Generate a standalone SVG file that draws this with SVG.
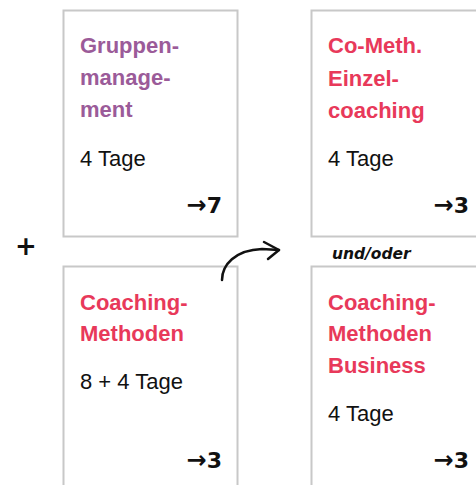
<svg xmlns="http://www.w3.org/2000/svg" width="476" height="485" viewBox="0 0 476 485">
<style>
.box{fill:#fff;stroke:#c8c8c8;stroke-width:2}
.title{font-family:"Liberation Sans",Arial,sans-serif;font-weight:bold;font-size:22px}
.purple{fill:#9b5b99}
.red{fill:#e8395a}
.days{font-family:"Liberation Sans",Arial,sans-serif;font-size:22px;fill:#111}
.ref{font-family:"DejaVu Sans",sans-serif;font-weight:bold;font-size:22px;fill:#111;text-anchor:end}
.arr{font-size:24px}
.hand{font-family:"DejaVu Sans",sans-serif;font-weight:bold;font-style:italic;fill:#111}
</style>
<rect width="476" height="485" fill="#fff"/>
<g id="node-gruppenmanagement">
<rect class="box" x="63.5" y="10.5" width="174" height="226"/>
<text class="title purple" x="80" y="53">Gruppen-</text>
<text class="title purple" x="80" y="85">manage-</text>
<text class="title purple" x="80" y="117">ment</text>
<text class="days" x="80" y="166">4 Tage</text>
<text class="ref" x="222" y="213"><tspan class="arr">→</tspan>7</text>
</g>
<g id="node-einzelcoaching">
<rect class="box" x="311.5" y="10.5" width="174" height="226"/>
<text class="title red" x="328" y="53">Co-Meth.</text>
<text class="title red" x="328" y="86">Einzel-</text>
<text class="title red" x="328" y="118">coaching</text>
<text class="days" x="328" y="166">4 Tage</text>
<text class="ref" x="469" y="213"><tspan class="arr">→</tspan>3</text>
</g>
<g id="node-coachingmethoden">
<rect class="box" x="63.5" y="266.5" width="174" height="226"/>
<text class="title red" x="80" y="310">Coaching-</text>
<text class="title red" x="80" y="341">Methoden</text>
<text class="days" x="80" y="389">8 + 4 Tage</text>
<text class="ref" x="222" y="468"><tspan class="arr">→</tspan>3</text>
</g>
<g id="node-business">
<rect class="box" x="311.5" y="266.5" width="174" height="226"/>
<text class="title red" x="328" y="310">Coaching-</text>
<text class="title red" x="328" y="341">Methoden</text>
<text class="title red" x="328" y="373">Business</text>
<text class="days" x="328" y="421">4 Tage</text>
<text class="ref" x="469" y="468"><tspan class="arr">→</tspan>3</text>
</g>
<g id="labels">
<text class="hand" x="26" y="255" font-size="26" text-anchor="middle">+</text>
<text class="hand" x="332" y="259" font-size="15.5">und/oder</text>
</g>
<g id="connectors" fill="none" stroke="#111" stroke-linecap="round" stroke-linejoin="round">
<path d="M222 280 C222 265 235 250 262 249 L279 250" stroke-width="2.5"/>
<path d="M264 242 L279 250 L268 259" stroke-width="2.5"/>
</g>
</svg>
